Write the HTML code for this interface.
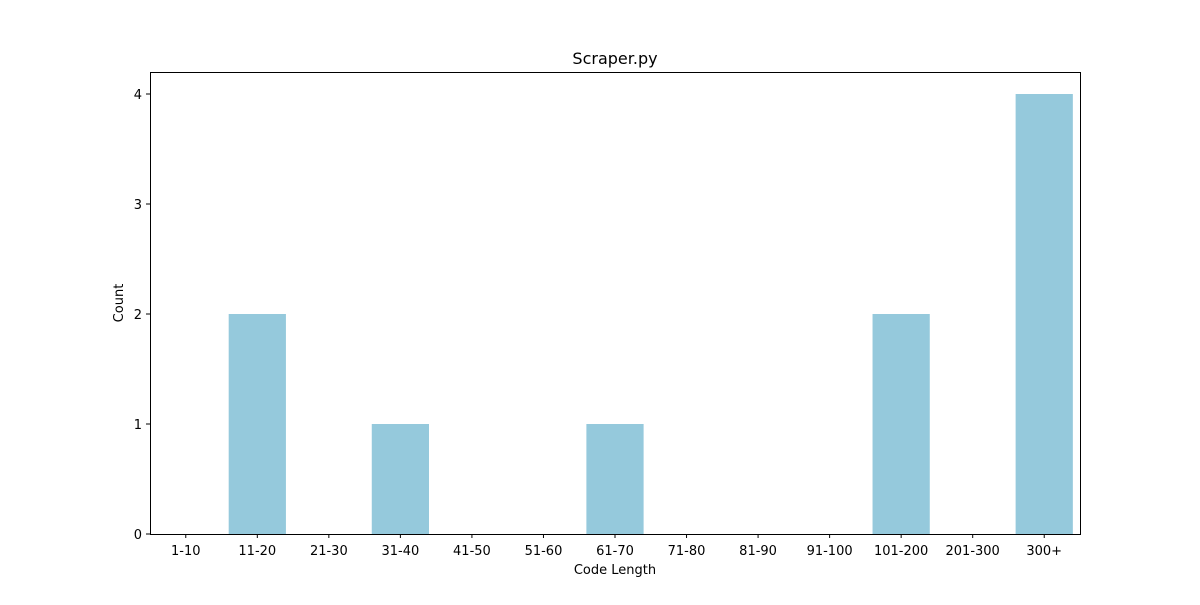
<!DOCTYPE html>
<html><head><meta charset="utf-8"><style>
body{margin:0;background:#fff;}
svg text{font-family:"DejaVu Sans","Liberation Sans",sans-serif;}
</style></head><body>
<svg id="chart" width="1200" height="600" xmlns="http://www.w3.org/2000/svg">
<rect width="1200" height="600" fill="#fff"/>
<text x="615" y="64" font-size="16" text-anchor="middle">Scraper.py</text>
<g id="bars"></g>
<g id="xticks"></g>
<g id="yticks"></g>
<rect x="150.5" y="72.5" width="930" height="462" fill="none" stroke="#000" stroke-width="1"/>
<text x="615" y="574" font-size="13" text-anchor="middle">Code Length</text>
<text x="123" y="303" font-size="13" text-anchor="middle" transform="rotate(-90 123 303)">Count</text>
</svg>
<script>
const categories = ["1-10","11-20","21-30","31-40","41-50","51-60","61-70","71-80","81-90","91-100","101-200","201-300","300+"];
const counts = [0,2,0,1,0,0,1,0,0,0,2,0,4];
const yTicks = [0,1,2,3,4];
const NS="http://www.w3.org/2000/svg";
const x0=150,x1=1080,y0=534,y1=72,yMax=4.2;
const step=(x1-x0)/categories.length;
const xc=i=>x0+step*(i+0.5);
const ys=v=>y0-(v/yMax)*(y0-y1);
const bars=document.getElementById('bars'),xt=document.getElementById('xticks'),yt=document.getElementById('yticks');
categories.forEach((c,i)=>{
  const r=document.createElementNS(NS,'rect');
  r.setAttribute('x',xc(i)-step*0.4);r.setAttribute('width',step*0.8);
  r.setAttribute('y',ys(counts[i]));r.setAttribute('height',y0-ys(counts[i]));
  r.setAttribute('fill','#95c9dc');
  
  
  bars.appendChild(r);
  const l=document.createElementNS(NS,'line');
  l.setAttribute('x1',xc(i));l.setAttribute('x2',xc(i));l.setAttribute('y1',y0);l.setAttribute('y2',y0+4);l.setAttribute('stroke','#000');
  
  
  xt.appendChild(l);
  const t=document.createElementNS(NS,'text');
  t.setAttribute('x',xc(i));t.setAttribute('y',555);t.setAttribute('font-size','13');t.setAttribute('text-anchor','middle');
  t.textContent=c;
  
  
  xt.appendChild(t);
});
yTicks.forEach(v=>{
  const l=document.createElementNS(NS,'line');
  l.setAttribute('x1',x0-4);l.setAttribute('x2',x0);l.setAttribute('y1',ys(v));l.setAttribute('y2',ys(v));l.setAttribute('stroke','#000');
  
  
  yt.appendChild(l);
  const t=document.createElementNS(NS,'text');
  t.setAttribute('x',x0-8);t.setAttribute('y',ys(v)+5);t.setAttribute('font-size','13');t.setAttribute('text-anchor','end');
  t.textContent=v;
  
  
  yt.appendChild(t);
});
</script>
</body></html>
